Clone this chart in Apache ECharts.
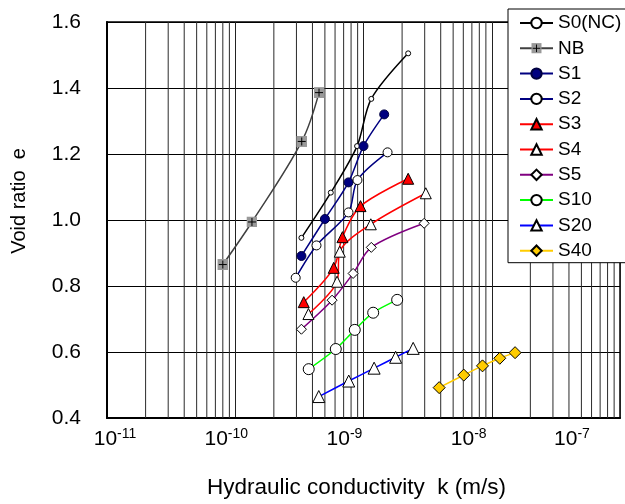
<!DOCTYPE html>
<html>
<head>
<meta charset="utf-8">
<script src="https://cdn.jsdelivr.net/npm/echarts@6/dist/echarts.min.js"></script>
<style>
  html, body { margin: 0; padding: 0; background: #fff; }
  #chart { width: 625px; height: 504px; }
</style>
</head>
<body>
<div id="chart"></div>
<script>
// Hydraulic conductivity k (m/s) and void ratio e for each specimen
const seriesNames = ['S0(NC)', 'NB', 'S1', 'S2', 'S3', 'S4', 'S5', 'S10', 'S20', 'S40'];

const kS0 = [3.28e-10, 5.56e-10, 8.91e-10, 1.15e-9, 2.23e-9];
const eS0 = [0.946, 1.083, 1.224, 1.367, 1.505];

const kNB = [8.0e-11, 1.35e-10, 3.3e-10, 4.5e-10];
const eNB = [0.865, 0.994, 1.238, 1.386];

const kS1 = [3.28e-10, 5.0e-10, 7.64e-10, 1.0e-9, 1.45e-9];
const eS1 = [0.891, 1.003, 1.114, 1.224, 1.320];

const kS2 = [2.96e-10, 4.3e-10, 7.64e-10, 8.97e-10, 1.54e-9];
const eS2 = [0.825, 0.923, 1.023, 1.121, 1.205];

const kS3 = [3.42e-10, 5.86e-10, 6.85e-10, 9.48e-10, 2.23e-9];
const eS3 = [0.751, 0.855, 0.948, 1.042, 1.125];

const kS4 = [3.72e-10, 6.22e-10, 6.53e-10, 1.14e-9, 3.06e-9];
const eS4 = [0.715, 0.813, 0.904, 0.987, 1.081];

const kS5 = [3.28e-10, 5.69e-10, 8.3e-10, 1.15e-9, 2.97e-9];
const eS5 = [0.669, 0.757, 0.838, 0.917, 0.990];

const kS10 = [3.74e-10, 6.08e-10, 8.55e-10, 1.19e-9, 1.83e-9];
const eS10 = [0.548, 0.609, 0.667, 0.719, 0.758];

const kS20 = [4.48e-10, 7.67e-10, 1.21e-9, 1.78e-9, 2.44e-9];
const eS20 = [0.465, 0.512, 0.551, 0.584, 0.611];

const kS40 = [3.89e-9, 6.05e-9, 8.47e-9, 1.155e-8, 1.52e-8];
const eS40 = [0.492, 0.530, 0.558, 0.581, 0.598];

// axis ranges and tick values
const kMin = 1e-11, kMax = 1e-7;
const eMin = 0.4, eMax = 1.6, eStep = 0.2;
const decadeExponents = [-11, -10, -9, -8, -7];

function pairs(ks, es) { return ks.map((k, i) => [k, es[i]]); }

// vertical grid lines at 2..9 inside each decade, drawn as separate segments
const minorGridData = [];
for (let d = -11; d < -7; d++) {
  for (let m = 2; m <= 9; m++) {
    const v = m * Math.pow(10, d);
    minorGridData.push([v, eMin], [v, eMax], [v, '-']);
  }
}

// grey square with a black cross for NB
const nbSvg = "<svg xmlns='http://www.w3.org/2000/svg' width='22' height='22'>" +
  "<rect x='0' y='0' width='22' height='22' fill='#999999'/>" +
  "<path d='M11 3V19M3 11H19' stroke='#000' stroke-width='2'/></svg>";
const nbSymbol = 'image://data:image/svg+xml;charset=utf-8,' + encodeURIComponent(nbSvg);

const font = 'Liberation Sans, Arial, sans-serif';

// per-label horizontal placement of the decade labels
const labelShift = { '-11': [16, 0], '-10': [0, 18], '-9': [0, 38], '-8': [0, 46], '-7': [0, 96] };
const rich = {};
decadeExponents.forEach(ex => {
  const key = 'n' + String(ex).replace('-', 'm');
  rich['a' + key] = { fontSize: 21, lineHeight: 24, fontFamily: font, color: '#000', padding: [0, 0, 0, labelShift[ex][0]] };
  rich['b' + key] = { fontSize: 14, lineHeight: 15, fontFamily: font, color: '#000', verticalAlign: 'top', padding: [0, labelShift[ex][1], 0, 0] };
});

function lineSeries(name, data, opts) {
  return Object.assign({
    name: name,
    type: 'line',
    data: data,
    smooth: 0.3,
    z: 3,
    animation: false,
    lineStyle: { color: opts.line, width: 1.5 },
    itemStyle: { color: opts.fill, borderColor: opts.border || '#000', borderWidth: 1 },
    symbol: opts.symbol,
    symbolSize: opts.size,
    emphasis: { disabled: true }
  }, opts.extra || {});
}

const chart = echarts.init(document.getElementById('chart'), null, { renderer: 'canvas' });

chart.setOption({
  backgroundColor: '#ffffff',
  animation: false,
  grid: {
    left: 107, right: 5, top: 22, bottom: 86,
    containLabel: false, outerBoundsMode: 'none',
    show: true, borderColor: '#000', borderWidth: 1.5, backgroundColor: 'transparent'
  },
  legend: {
    data: seriesNames,
    orient: 'vertical',
    left: 508, top: 9,
    padding: [4, 30, 2, 11],
    itemWidth: 33, itemHeight: 13, itemGap: 5.3,
    backgroundColor: '#fff',
    borderColor: '#000', borderWidth: 1,
    selectedMode: false,
    textStyle: { fontSize: 19, lineHeight: 20, fontFamily: font, color: '#000' },
    z: 10
  },
  xAxis: {
    type: 'log', logBase: 10, min: kMin, max: kMax,
    name: 'Hydraulic conductivity  k (m/s)',
    nameLocation: 'middle', nameGap: 58,
    nameTextStyle: { fontSize: 22.5, fontFamily: font, color: '#000', padding: [0, 14, 0, 0] },
    axisLine: { show: true, onZero: false, lineStyle: { color: '#000', width: 2 } },
    axisTick: { show: false },
    splitLine: { show: true, lineStyle: { color: '#222', width: 1 } },
    axisLabel: {
      margin: 9,
      hideOverlap: false,
      formatter: function (v) {
        const ex = Math.round(Math.log10(v));
        const key = 'n' + String(ex).replace('-', 'm');
        return '{a' + key + '|10}{b' + key + '|' + ex + '}';
      },
      rich: rich
    }
  },
  yAxis: {
    type: 'value', min: eMin, max: eMax, interval: eStep,
    name: 'Void ratio  e',
    nameLocation: 'middle', nameGap: 78, nameRotate: 90,
    nameTextStyle: { fontSize: 20, fontFamily: font, color: '#000', padding: [0, 0, 0, 38] },
    axisLine: { show: true, onZero: false, lineStyle: { color: '#000', width: 2 } },
    axisTick: { show: false },
    splitLine: { show: true, lineStyle: { color: '#000', width: 1 } },
    axisLabel: {
      margin: 26, fontSize: 21, fontFamily: font, color: '#000',
      formatter: v => v.toFixed(1)
    }
  },
  series: [
    {
      name: 'decade-grid', type: 'line', data: minorGridData, z: 1,
      silent: true, animation: false, symbol: 'none', connectNulls: false,
      lineStyle: { color: '#2a2a2a', width: 1 },
      emphasis: { disabled: true }
    },
    lineSeries('S0(NC)', pairs(kS0, eS0), { line: '#000', fill: '#fff', symbol: 'circle', size: 5 }),
    lineSeries('NB', pairs(kNB, eNB), { line: '#404040', fill: '#999', symbol: nbSymbol, size: 11, extra: { smooth: 0.35 } }),
    lineSeries('S1', pairs(kS1, eS1), { line: '#000080', fill: '#000080', border: '#000040', symbol: 'circle', size: 9 }),
    lineSeries('S2', pairs(kS2, eS2), { line: '#000080', fill: '#fff', symbol: 'circle', size: 9 }),
    lineSeries('S3', pairs(kS3, eS3), { line: '#ff0000', fill: '#ff0000', symbol: 'triangle', size: 11 }),
    lineSeries('S4', pairs(kS4, eS4), { line: '#ff0000', fill: '#fff', symbol: 'triangle', size: 11 }),
    lineSeries('S5', pairs(kS5, eS5), { line: '#800080', fill: '#fff', symbol: 'diamond', size: 10 }),
    lineSeries('S10', pairs(kS10, eS10), { line: '#00ff00', fill: '#fff', symbol: 'circle', size: 11 }),
    lineSeries('S20', pairs(kS20, eS20), { line: '#0000ff', fill: '#fff', symbol: 'triangle', size: 12 }),
    lineSeries('S40', pairs(kS40, eS40), { line: '#ffcc00', fill: '#ffcc00', symbol: 'diamond', size: 12 })
  ]
});
</script>
</body>
</html>
